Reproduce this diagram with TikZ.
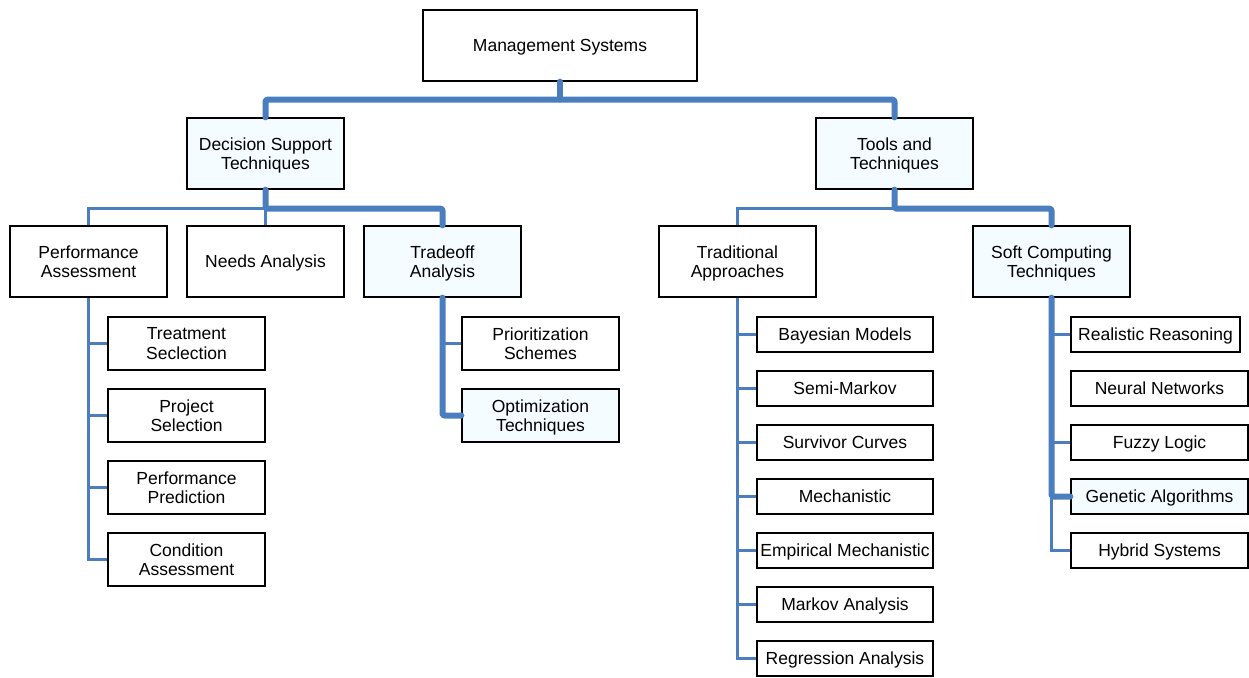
\documentclass[tikz,border=0pt]{standalone}
\usepackage{fontspec}
\setmainfont{Liberation Sans}
\usetikzlibrary{calc}
\definecolor{lnblue}{RGB}{74,126,191}
\definecolor{hifill}{RGB}{244,252,255}
\begin{document}
\begin{tikzpicture}[x=1pt,y=-1pt,
  box/.style={draw=black, line width=1.3pt, inner sep=0pt, align=center, text depth=0pt,
    font=\fontsize{17.5}{19.5}\selectfont, anchor=center},
  big/.style={box, minimum width=157pt, minimum height=71pt},
  mid/.style={box, minimum width=157pt, minimum height=53pt},
  sml/.style={box, minimum width=176pt, minimum height=35pt},
  soft/.style={box, minimum width=177pt, minimum height=35pt},
  hl/.style={fill=hifill},
  thin/.style={draw=lnblue, line width=2.4pt},
  thk/.style={draw=lnblue, line width=6pt, line cap=round, line join=round, rounded corners=2pt}]
\useasboundingbox (0,0) rectangle (1249,677);
% nodes
\node[box, minimum width=274pt, minimum height=71pt] (ms) at (560,45.5) {Management Systems};
\node[big, hl] (dst) at (265.5,153.5) {Decision Support\\Techniques};
\node[big, hl] (tt) at (894.5,153.5) {Tools and\\Techniques};
\node[big] (pa) at (88.5,261.5) {Performance\\Assessment};
\node[big] (na) at (265.5,261.5) {Needs Analysis};
\node[big, hl] (toa) at (442.5,261.5) {Tradeoff\\Analysis};
\node[big] (tra) at (737.5,261.5) {Traditional\\Approaches};
\node[big, hl] (sc) at (1051.5,261.5) {Soft Computing\\Techniques};
\node[mid] (ts) at (186.5,343.5) {Treatment\\Seclection};
\node[mid] (ps) at (186.5,415.5) {Project\\Selection};
\node[mid] (pp) at (186.5,487.5) {Performance\\Prediction};
\node[mid] (ca) at (186.5,559.5) {Condition\\Assessment};
\node[mid] (pr) at (540.5,343.5) {Prioritization\\Schemes};
\node[mid, hl] (ot) at (540.5,415.5) {Optimization\\Techniques};
\node[sml] (bm) at (845,334.5) {Bayesian Models};
\node[sml] (sm) at (845,388.5) {Semi-Markov};
\node[sml] (scv) at (845,442.5) {Survivor Curves};
\node[sml] (me) at (845,496.5) {Mechanistic};
\node[sml] (em) at (845,550.5) {Empirical Mechanistic};
\node[sml] (mka) at (845,604.5) {Markov Analysis};
\node[sml] (ra) at (845,658.5) {Regression Analysis};
\node[box, minimum width=169pt, minimum height=35pt] (rr) at (1155.5,334.5) {Realistic Reasoning};
\node[soft] (nn) at (1159.5,388.5) {Neural Networks};
\node[soft] (fl) at (1159.5,442.5) {Fuzzy Logic};
\node[soft, hl] (ga) at (1159.5,496.5) {Genetic Algorithms};
\node[soft] (hs) at (1159.5,550.5) {Hybrid Systems};
\coordinate (j1) at ($(ms.south)+(0,18)$);
\coordinate (j2) at ($(dst.south)+(0,19)$);
\coordinate (j3) at ($(tt.south)+(0,19)$);
% thin connectors
\draw[thin] (pa.north) |- (j2) -- (dst.south);
\draw[thin] (na.north) -- (j2);
\draw[thin] (pa.south) |- (ca.west);
\foreach \n in {ts,ps,pp} \draw[thin] (pa.south |- \n.west) -- (\n.west);
\draw[thin] (toa.south |- pr.west) -- (pr.west);
\draw[thin] (tra.north) |- (j3);
\draw[thin] (tra.south) |- (ra.west);
\foreach \n in {bm,sm,scv,me,em,mka} \draw[thin] (tra.south |- \n.west) -- (\n.west);
\draw[thin] (sc.south) |- (hs.west);
\foreach \n in {rr,fl} \draw[thin] (sc.south |- \n.west) -- (\n.west);
% thick connectors
\draw[thk] (ms.south) -- (j1);
\draw[thk] (dst.north) |- (j1) -| (tt.north);
\draw[thk] (dst.south) -- (j2) -| (toa.north);
\draw[thk] (toa.south) |- (ot.west);
\draw[thk] (tt.south) -- (j3) -| (sc.north);
\draw[thk] (sc.south) |- (ga.west);
\end{tikzpicture}
\end{document}
